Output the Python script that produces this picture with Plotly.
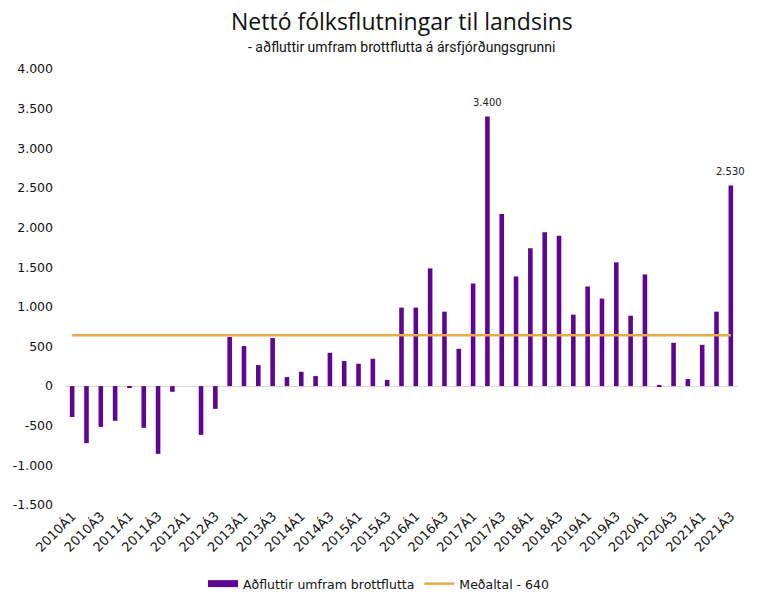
import plotly.graph_objects as go

years = list(range(2010, 2022))
categories = [f"{y}Á{q}" for y in years for q in range(1, 5)][:47]

values = [-390, -720, -515, -438, -20, -527, -855, -72,
          0, -615, -287, 620, 505, 265, 606, 114,
          181, 126, 420, 316, 282, 345, 78, 990,
          990, 1485, 939, 470, 1294, 3400, 2170, 1383,
          1739, 1942, 1895, 901, 1256, 1104, 1561, 888,
          1409, 15, 546, 89, 520, 939, 2530]

average = 640
labelled = {"2017Á2": "3.400", "2021Á3": "2.530"}

ytick_vals = [4000, 3500, 3000, 2500, 2000, 1500, 1000, 500, 0, -500, -1000, -1500]
ytick_text = ["4.000", "3.500", "3.000", "2.500", "2.000", "1.500", "1.000", "500", "0",
              "-500", "-1.000", "-1.500"]
xtick_vals = categories[::2]

PURPLE = "#5e0591"
ORANGE = "#e8a948"

fig = go.Figure()
fig.add_trace(go.Bar(
    x=categories, y=values, name="Aðfluttir umfram brottflutta",
    marker=dict(color=PURPLE, line=dict(width=0)),
    showlegend=False,
))
# legend stand-in for the bar series (wide rectangle swatch)
fig.add_trace(go.Scatter(
    x=[categories[0]], y=[None], mode="lines", name="Aðfluttir umfram brottflutta",
    line=dict(color=PURPLE, width=7),
))
fig.add_trace(go.Scatter(
    x=categories, y=[average] * len(categories), mode="lines",
    name=f"Meðaltal - {average}",
    line=dict(color=ORANGE, width=2.5),
))

annotations = []
for cat, txt in labelled.items():
    annotations.append(dict(
        x=cat, y=values[categories.index(cat)], xref="x", yref="y", text=txt,
        showarrow=False, yshift=14, yanchor="middle",
        font=dict(size=10, color="#222222", family="DejaVu Sans"),
    ))

plot_h = 604 - 69 - 99
annotations += [
    dict(text="Nettó fólksflutningar til landsins", x=0.5, xref="paper",
         y=1 + (69 - 21) / plot_h, yref="paper", yanchor="middle", showarrow=False,
         font=dict(family="Open Sans", size=23, color="#111111")),
    dict(text="- aðfluttir umfram brottflutta á ársfjórðungsgrunni", x=0.5, xref="paper",
         y=1 + (69 - 47) / plot_h, yref="paper", yanchor="middle", showarrow=False,
         font=dict(family="Roboto", size=14, color="#111111")),
]

fig.update_layout(
    width=757, height=604,
    margin=dict(l=65, r=19, t=69, b=99),
    paper_bgcolor="white", plot_bgcolor="white",
    font=dict(family="DejaVu Sans", size=13, color="#111111"),
    bargap=0.68,
    showlegend=True,
    legend=dict(orientation="h", x=0.5, xref="container", xanchor="center",
                y=1 - 584 / 604, yref="container", yanchor="middle",
                font=dict(size=12.5), traceorder="normal"),
    annotations=annotations,
    xaxis=dict(
        type="category", tickmode="array", tickvals=xtick_vals, tickangle=-45,
        range=[-0.5, len(categories) - 0.5],
        tickfont=dict(size=13), showgrid=False, showline=False, ticks="",
        zeroline=False, automargin=False,
    ),
    yaxis=dict(
        range=[-1500, 4000], tickmode="array", tickvals=ytick_vals, ticktext=ytick_text,
        showgrid=False, zeroline=True, zerolinecolor="#d9d9d9", zerolinewidth=1,
        showline=False, ticks="", tickfont=dict(size=12.5), ticklabelstandoff=11,
        automargin=False,
    ),
)

fig.write_html("out.html")
